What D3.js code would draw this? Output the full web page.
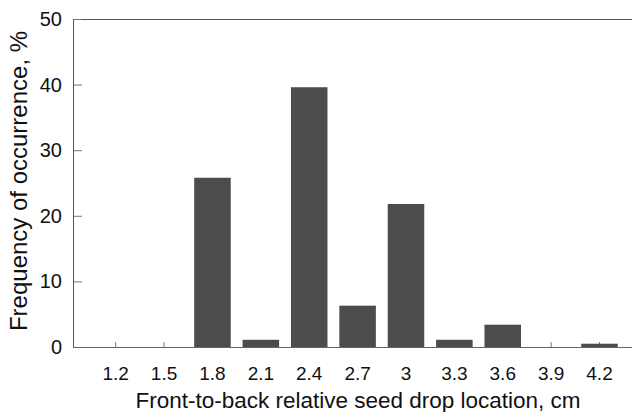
<!DOCTYPE html>
<html>
<head>
<meta charset="utf-8">
<script src="https://cdn.jsdelivr.net/npm/d3@7"></script>
<style>
  body { margin: 0; background: #fff; }
  text { font-family: Arial, "Liberation Sans", sans-serif; fill: #111; }
</style>
</head>
<body>
<svg id="chart" width="632" height="412"></svg>
<script>
var locations = ["1.2", "1.5", "1.8", "2.1", "2.4", "2.7", "3", "3.3", "3.6", "3.9", "4.2"];
var frequency = [0, 0, 25.8, 1.1, 39.6, 6.3, 21.8, 1.1, 3.4, 0, 0.5];
var yTicks = [0, 10, 20, 30, 40, 50];

var plotLeft = 73, plotRight = 632, plotTop = 19, plotBottom = 347;

var svg = d3.select("#chart");

var x = d3.scaleBand()
  .domain(locations)
  .range([91.5, 623.7])
  .paddingInner(0.245)
  .paddingOuter(0.1225);

var y = d3.scaleLinear()
  .domain([0, 50])
  .range([plotBottom, plotTop]);

// frame lines (no right border)
svg.append("line")
  .attr("x1", plotLeft).attr("x2", plotRight)
  .attr("y1", plotTop + 0.5).attr("y2", plotTop + 0.5)
  .attr("stroke", "#555");

var xAxis = d3.axisBottom(x).tickSize(-5).tickPadding(20);
var gx = svg.append("g")
  .attr("transform", "translate(0," + plotBottom + ")")
  .call(xAxis);
gx.select(".domain").remove();
gx.selectAll(".tick line").attr("stroke", "#777");
gx.selectAll("text").attr("font-size", 19).attr("fill", "#111");

var yAxis = d3.axisLeft(y).tickValues(yTicks).tickSize(-9).tickPadding(11);
var gy = svg.append("g")
  .attr("transform", "translate(" + plotLeft + ",0)")
  .call(yAxis);
gy.select(".domain").remove();
gy.selectAll(".tick line").attr("stroke", "#777");
gy.selectAll("text").attr("font-size", 20).attr("fill", "#111");

svg.append("line")
  .attr("x1", plotLeft + 0.5).attr("x2", plotLeft + 0.5)
  .attr("y1", plotTop).attr("y2", plotBottom)
  .attr("stroke", "#555");
svg.append("line")
  .attr("x1", plotLeft).attr("x2", plotRight)
  .attr("y1", plotBottom + 0.5).attr("y2", plotBottom + 0.5)
  .attr("stroke", "#666");

// bars
svg.selectAll(".bar")
  .data(frequency)
  .enter().append("rect")
  .attr("class", "bar")
  .attr("x", function (d, i) { return x(locations[i]); })
  .attr("width", x.bandwidth())
  .attr("y", function (d) { return y(d); })
  .attr("height", function (d) { return plotBottom - y(d); })
  .attr("fill", "#4c4c4c");

// titles
svg.append("text")
  .attr("x", 358)
  .attr("y", 408)
  .attr("text-anchor", "middle")
  .attr("font-size", 22.5)
  .text("Front-to-back relative seed drop location, cm");

svg.append("text")
  .attr("transform", "translate(27,181) rotate(-90)")
  .attr("text-anchor", "middle")
  .attr("font-size", 24)
  .text("Frequency of occurrence, %");
</script>
</body>
</html>
